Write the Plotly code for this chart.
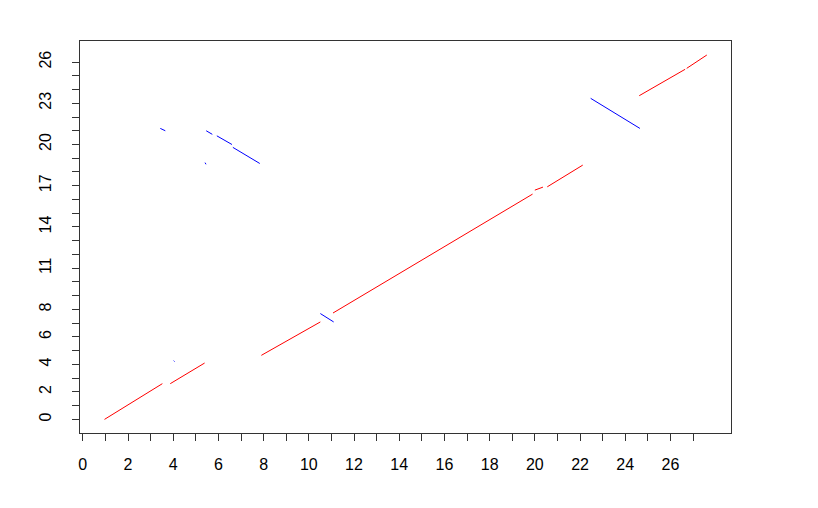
import plotly.graph_objects as go

# Forward (red) alignment segments: start / end coordinates
red_x0 = [0.96, 3.87, 7.90, 11.07, 20.00, 20.55, 24.62, 26.72]
red_y0 = [0.00, 2.60, 4.66, 7.74, 16.68, 16.92, 23.55, 25.54]
red_x1 = [3.52, 5.39, 10.51, 19.90, 20.36, 22.12, 26.65, 27.61]
red_y1 = [2.60, 4.10, 7.09, 16.39, 16.90, 18.50, 25.47, 26.51]

# Reverse (blue) alignment segments
blue_x0 = [3.43, 5.46, 5.93, 6.64, 5.41, 4.02, 10.51, 22.47]
blue_y0 = [21.17, 21.00, 20.63, 19.79, 18.68, 4.27, 7.70, 23.36]
blue_x1 = [3.65, 5.73, 6.60, 7.83, 5.45, 4.06, 11.10, 24.65]
blue_y1 = [21.00, 20.74, 20.00, 18.62, 18.56, 4.21, 7.09, 21.17]

x_ticks = list(range(0, 28))
x_labels = [str(v) if v % 2 == 0 and v <= 26 else "" for v in x_ticks]
y_ticks = list(range(0, 27))
y_shown = [0, 2, 4, 6, 8, 11, 14, 17, 20, 23, 26]
y_labels = [str(v) if v in y_shown else "" for v in y_ticks]


def seg_xy(x0, y0, x1, y1):
    xs, ys = [], []
    for a, b, c, d in zip(x0, y0, x1, y1):
        xs += [a, c, None]
        ys += [b, d, None]
    return xs, ys


fig = go.Figure()
rx, ry = seg_xy(red_x0, red_y0, red_x1, red_y1)
bx, by = seg_xy(blue_x0, blue_y0, blue_x1, blue_y1)
fig.add_trace(go.Scatter(x=rx, y=ry, mode="lines",
                         line=dict(color="#FF0000", width=1.0),
                         hoverinfo="skip", showlegend=False))
fig.add_trace(go.Scatter(x=bx, y=by, mode="lines",
                         line=dict(color="#0000FF", width=1.0),
                         hoverinfo="skip", showlegend=False))

axis_font = dict(family="Liberation Sans, Arial, sans-serif", size=16, color="#000000")

fig.update_layout(
    width=810, height=500,
    margin=dict(l=72, r=87, t=33, b=75),
    paper_bgcolor="white", plot_bgcolor="white",
    showlegend=False,
    xaxis=dict(
        range=[-0.124, 28.68],
        tickmode="array", tickvals=x_ticks, ticktext=x_labels,
        ticks="outside", ticklen=7, tickcolor="#333333", tickwidth=1,
        showline=True, mirror=True, linecolor="#333333", linewidth=1,
        showgrid=False, zeroline=False,
        tickfont=axis_font, ticklabelstandoff=10,
    ),
    yaxis=dict(
        range=[-0.99, 27.53],
        tickmode="array", tickvals=y_ticks, ticktext=y_labels,
        ticks="outside", ticklen=7, tickcolor="#333333", tickwidth=1,
        showline=True, mirror=True, linecolor="#333333", linewidth=1,
        showgrid=False, zeroline=False,
        tickfont=axis_font, tickangle=-90, ticklabelstandoff=15,
    ),
)

fig.write_html("out.html")
